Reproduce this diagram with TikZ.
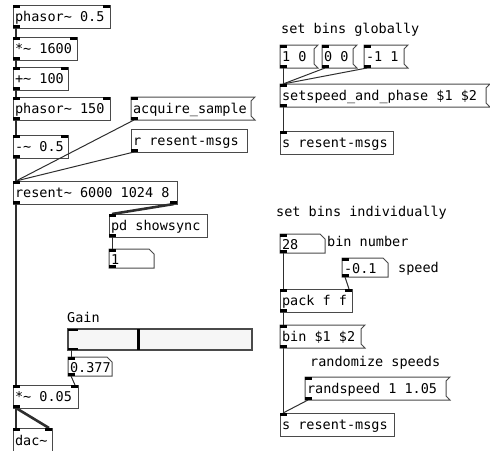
\documentclass[tikz,border=0pt]{standalone}
\usepackage{fontspec}
\setmonofont{DejaVu Sans Mono}
\definecolor{framec}{HTML}{4A4A4A}
\definecolor{wirec}{HTML}{2E2E2E}
\definecolor{sliderbg}{HTML}{F6F6F6}

% box content of a given inner width, set flush left
\newcommand\tb[2]{\makebox[#1][l]{#2}}
% outlines of message boxes (flag on the right) and number boxes (cut corner)
\newcommand\msgoutline[1]{\draw[frame] (#1.south west) -- (#1.north west) -- ([xshift=4pt]#1.north east) -- ([yshift=-4pt]#1.north east) -- ([yshift=4pt]#1.south east) -- ([xshift=4pt]#1.south east) -- cycle;}
\newcommand\numoutline[1]{\draw[frame] (#1.north west) -- ([xshift=-5pt]#1.north east) -- ([yshift=-5pt]#1.north east) -- (#1.south east) -- (#1.south west) -- cycle;}
% inlets and outlets
\newcommand\pdinL[1]{\fill[iolet] (#1.north west) rectangle ++(7,3);}
\newcommand\pdinR[1]{\fill[iolet] (#1.north east) rectangle ++(-7,3);}
\newcommand\pdoutL[1]{\fill[iolet] (#1.south west) rectangle ++(7,-3);}
\newcommand\pdoutR[1]{\fill[iolet] (#1.south east) rectangle ++(-7,-3);}

\begin{document}
\begin{tikzpicture}[x=1pt,y=-1pt,
  pdtext/.style={font=\ttfamily\fontsize{13.5}{16}\selectfont, text=black},
  box/.style={pdtext, anchor=north west, inner xsep=2pt, inner ysep=0pt,
    outer sep=0pt, text height=10pt, text depth=0pt, minimum height=23pt},
  obj/.style={box, draw=framec, line width=1pt},
  msg/.style={box},
  num/.style={box, minimum height=19pt, text height=12pt},
  comment/.style={pdtext, anchor=base west, inner sep=0pt},
  frame/.style={draw=framec, line width=1pt},
  iolet/.style={fill=black},
  sig/.style={draw=wirec, line width=2.6pt},
  ctl/.style={draw=wirec, line width=1pt},
]
\useasboundingbox (0,0) rectangle (490,450);

% ---- signal chain on the left ----
\node[obj] (ph1)  at (13,5)   {\tb{93pt}{phasor\string~ 0.5}};
\node[obj] (mul1) at (13,37)  {\tb{60pt}{*\string~ 1600}};
\node[obj] (add)  at (13,67)  {\tb{51pt}{+\string~ 100}};
\node[obj] (ph2)  at (13,97)  {\tb{93pt}{phasor\string~ 150}};
\node[obj] (sub)  at (13,135) {\tb{51pt}{-\string~ 0.5}};
\node[obj] (res)  at (13,181) {\tb{160pt}{resent\string~ 6000 1024 8}};
\node[msg] (acq)  at (131,97) {\tb{116pt}{acquire\_sample}};
\node[obj] (rcv)  at (131,129) {\tb{112pt}{r resent-msgs}};
\node[obj] (sync) at (109,214) {\tb{94pt}{pd showsync}};
\node[num] (n1)   at (109,249) {\tb{41pt}{1}};

\node[comment] (gainlbl) at (67,322) {Gain};
\node[draw=framec, line width=1.5pt, fill=sliderbg, anchor=north west,
      inner sep=0pt, outer sep=0pt, minimum width=184pt, minimum height=21pt]
      (gain) at (68,329) {};
\draw[line width=3pt, black] ([xshift=70pt]gain.north west) -- ([xshift=70pt]gain.south west);
\node[num]  (gval) at (68,357) {\tb{40pt}{0.377}};
\node[obj]  (mul2) at (13,385) {\tb{61pt}{*\string~ 0.05}};
\node[obj, minimum height=30pt, text height=4pt] (dac) at (13,428) {\tb{35pt}{dac\string~}};

% ---- global bin settings ----
\node[comment] (glob) at (281,33) {set bins globally};
\node[msg] (m10)   at (280,45) {\tb{30pt}{1 0}};
\node[msg] (m00)   at (322,45) {\tb{27pt}{0 0}};
\node[msg] (m11)   at (364,45) {\tb{36pt}{-1 1}};
\node[msg] (setsp) at (280,84) {\tb{202pt}{setspeed\_and\_phase \$1 \$2}};
\node[obj] (snd1)  at (280,131) {\tb{109pt}{s resent-msgs}};

% ---- per-bin settings ----
\node[comment] (indiv) at (276,216) {set bins individually};
\node[num] (binno) at (280,234) {\tb{41pt}{28}};
\node[comment] (binlbl) at (327,246) {bin number};
\node[num] (spd) at (342,258) {\tb{42pt}{-0.1}};
\node[comment] (spdlbl) at (398,272) {speed};
\node[obj] (pack) at (280,289) {\tb{68pt}{pack f f}};
\node[msg] (binmsg) at (280,325) {\tb{77pt}{bin \$1 \$2}};
\node[comment] (rndlbl) at (310,366) {randomize speeds};
\node[msg] (rnd) at (305,377) {\tb{137pt}{randspeed 1 1.05}};
\node[obj] (snd2) at (280,413) {\tb{110pt}{s resent-msgs}};

% box outlines
\msgoutline{acq}
\msgoutline{m10}\msgoutline{m00}\msgoutline{m11}
\msgoutline{setsp}\msgoutline{binmsg}\msgoutline{rnd}
\numoutline{n1}\numoutline{gval}\numoutline{binno}\numoutline{spd}

% signal connections
\draw[sig] ([xshift=3pt]ph1.south west) -- ([xshift=3pt]mul1.north west);
\draw[sig] ([xshift=3pt]mul1.south west) -- ([xshift=3pt]add.north west);
\draw[sig] ([xshift=3pt]add.south west) -- ([xshift=3pt]ph2.north west);
\draw[sig] ([xshift=3pt]ph2.south west) -- ([xshift=3pt]sub.north west);
\draw[sig] ([xshift=3pt]sub.south west) -- ([xshift=3pt]res.north west);
\draw[sig] ([xshift=3pt]res.south west) -- ([xshift=3pt]mul2.north west);
\draw[sig] ([xshift=-3pt]res.south east) -- ([xshift=3pt]sync.north west);
\draw[sig] ([xshift=3pt]mul2.south west) -- ([xshift=3pt]dac.north west);
\draw[sig] ([xshift=3pt]mul2.south west) -- ([xshift=-3pt]dac.north east);

% control connections
\draw[ctl] ([xshift=3pt]acq.south west) -- ([xshift=3pt]res.north west);
\draw[ctl] ([xshift=3pt]rcv.south west) -- ([xshift=3pt]res.north west);
\draw[ctl] ([xshift=3pt]sync.south west) -- ([xshift=3pt]n1.north west);
\draw[ctl] ([xshift=3pt]gain.south west) -- ([xshift=3pt]gval.north west);
\draw[ctl] ([xshift=3pt]gval.south west) -- ([xshift=-3pt]mul2.north east);
\draw[ctl] ([xshift=3pt]m10.south west) -- ([xshift=3pt]setsp.north west);
\draw[ctl] ([xshift=3pt]m00.south west) -- ([xshift=3pt]setsp.north west);
\draw[ctl] ([xshift=3pt]m11.south west) -- ([xshift=3pt]setsp.north west);
\draw[ctl] ([xshift=3pt]setsp.south west) -- ([xshift=3pt]snd1.north west);
\draw[ctl] ([xshift=3pt]binno.south west) -- ([xshift=3pt]pack.north west);
\draw[ctl] ([xshift=3pt]spd.south west) -- ([xshift=-3pt]pack.north east);
\draw[ctl] ([xshift=3pt]pack.south west) -- ([xshift=3pt]binmsg.north west);
\draw[ctl] ([xshift=3pt]binmsg.south west) -- ([xshift=3pt]snd2.north west);
\draw[ctl] ([xshift=3pt]rnd.south west) -- ([xshift=3pt]snd2.north west);

% inlets and outlets
\foreach \n in {ph1,mul1,add,ph2,sub,mul2,pack,dac}{\pdinL{\n}\pdinR{\n}}
\foreach \n in {res,acq,sync,n1,gval,m10,m00,m11,setsp,snd1,binno,spd,binmsg,rnd,snd2}{\pdinL{\n}}
\foreach \n in {ph1,mul1,add,ph2,sub,res,acq,rcv,sync,n1,gval,mul2,m10,m00,m11,setsp,binno,spd,pack,binmsg,rnd}{\pdoutL{\n}}
\pdoutR{res}
\fill[iolet] (gain.north west) rectangle ++(10,2);
\fill[iolet] (gain.south west) rectangle ++(10,-2);
\end{tikzpicture}
\end{document}
